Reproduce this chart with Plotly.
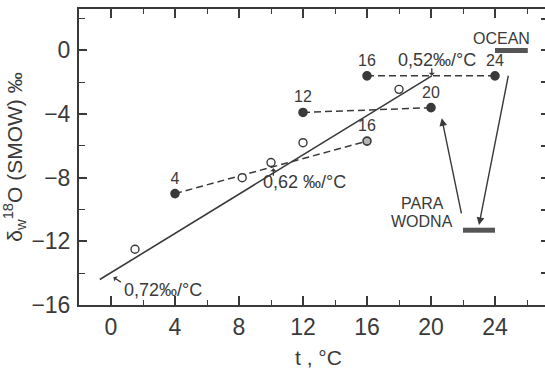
import plotly.graph_objects as go

# ---- data ----
fit_t = [-0.7, 20.05]
fit_d = [-14.4, -1.6]

open_t = [1.5, 8.2, 10.0, 12.0, 18.0]
open_d = [-12.5, -8.0, -7.05, -5.8, -2.45]

# dashed series (start point, end point)
s1_t = [4, 16]
s1_d = [-9.0, -5.7]
s1_lab = ["4", "16"]
s2_t = [12, 20]
s2_d = [-3.9, -3.6]
s2_lab = ["12", "20"]
s3_t = [16, 24]
s3_d = [-1.6, -1.6]
s3_lab = ["16", "24"]

ocean_t = [24.0, 26.05]
ocean_d = [0.0, 0.0]
vapour_t = [22.0, 24.0]
vapour_d = [-11.3, -11.3]

x_range = [-2, 27.125]
y_range = [-16, 2.6]

INK = "#3a3a3a"
FONT = "Liberation Sans, Arial, sans-serif"

fig = go.Figure()

fig.add_trace(go.Scatter(x=fit_t, y=fit_d, mode="lines",
                         line=dict(color=INK, width=1.6), showlegend=False))

dash = "7px,4px"
for tt, dd, lab, end_col in [(s1_t, s1_d, s1_lab, "#b5b5b5"), (s2_t, s2_d, s2_lab, INK), (s3_t, s3_d, s3_lab, INK)]:
    fig.add_trace(go.Scatter(x=tt, y=dd, mode="lines", line=dict(color=INK, width=1.5, dash=dash),
                             showlegend=False))
    fig.add_trace(go.Scatter(x=tt, y=dd, mode="markers+text", text=lab, textposition="top center",
                             textfont=dict(family=FONT, size=16, color=INK),
                             marker=dict(size=8, color=[INK, end_col],
                                         line=dict(color=INK, width=1.6)),
                             showlegend=False))

fig.add_trace(go.Scatter(x=open_t, y=open_d, mode="markers",
                         marker=dict(size=8, color="white", line=dict(color=INK, width=1.4)),
                         showlegend=False))

fig.add_trace(go.Scatter(x=ocean_t, y=ocean_d, mode="lines", line=dict(color="#555555", width=5),
                         showlegend=False, yaxis="y2"))
fig.add_trace(go.Scatter(x=vapour_t, y=vapour_d, mode="lines", line=dict(color="#555555", width=5),
                         showlegend=False))

ann = []
tf = dict(family=FONT, size=18, color=INK)
# slope labels
ann.append(dict(x=3.25, y=-15.05, text="0,72‰/°C", showarrow=False, font=tf, xref="x", yref="y"))
ann.append(dict(x=0.15, y=-14.25, ax=9, ay=6, text="", showarrow=True, arrowhead=1, arrowsize=0.8,
                arrowwidth=1.3, arrowcolor=INK, xref="x", yref="y"))
ann.append(dict(x=12.1, y=-8.26, text="0,62 ‰/°C", showarrow=False, font=tf, xref="x", yref="y"))
ann.append(dict(x=10.15, y=-7.4, ax=0, ay=9, text="", showarrow=True, arrowhead=1, arrowsize=0.8,
                arrowwidth=1.3, arrowcolor=INK, xref="x", yref="y"))
ann.append(dict(x=20.4, y=-0.6, text="0,52‰/°C", showarrow=False, font=tf, xref="x", yref="y"))
ann.append(dict(x=20.05, y=-1.6, ax=0, ay=-9, text="", showarrow=True, arrowhead=1, arrowsize=0.8,
                arrowwidth=1.3, arrowcolor=INK, xref="x", yref="y"))
# region labels
lf = dict(family=FONT, size=16, color=INK)
ann.append(dict(x=24.42, y=0.77, text="OCEAN", showarrow=False, font=lf, xref="x", yref="y"))
ann.append(dict(x=19.45, y=-9.6, text="PARA", showarrow=False, font=lf, xref="x", yref="y"))
ann.append(dict(x=19.45, y=-10.76, text="WODNA", showarrow=False, font=lf, xref="x", yref="y"))
# long arrows
ann.append(dict(x=20.67, y=-4.26, ax=21.92, ay=-10.34, axref="x", ayref="y", text="", showarrow=True,
                arrowhead=2, arrowsize=1.1, arrowwidth=1.4, arrowcolor=INK, xref="x", yref="y"))
ann.append(dict(x=23.0, y=-10.97, ax=24.85, ay=-1.5, axref="x", ayref="y", text="", showarrow=True,
                arrowhead=2, arrowsize=1.1, arrowwidth=1.4, arrowcolor=INK, xref="x", yref="y"))
# x-axis title
ann.append(dict(x=12.95, y=-0.177, xref="x", yref="paper", yanchor="middle", text="t , °C",
                showarrow=False, font=dict(family=FONT, size=21, color=INK)))

fig.update_layout(
    width=545, height=370,
    margin=dict(l=79, r=0, t=9, b=65),
    paper_bgcolor="white", plot_bgcolor="white",
    annotations=ann,
    xaxis=dict(range=x_range, tick0=0, dtick=4, ticks="inside", ticklen=9, tickwidth=1.5,
               tickcolor=INK, showline=True, linecolor=INK, linewidth=2, mirror="ticks",
               showgrid=False, zeroline=False,
               minor=dict(dtick=2, tick0=0, ticks="inside", ticklen=5, tickwidth=1.3, tickcolor=INK),
               tickfont=dict(family=FONT, size=23, color=INK), ticklabelstandoff=0),
    yaxis=dict(range=y_range, tick0=0, dtick=4, ticks="inside", ticklen=8, tickwidth=1.5,
               tickcolor=INK, showline=True, linecolor=INK, linewidth=2,
               showgrid=False, zeroline=False, automargin=False,
               minor=dict(dtick=2, tick0=0, ticks="inside", ticklen=6, tickwidth=1.3, tickcolor=INK),
               tickfont=dict(family=FONT, size=23, color=INK), ticklabelstandoff=2,
               title=dict(text="δ<sub>w</sub><sup>18</sup>O (SMOW) ‰",
                          font=dict(family=FONT, size=21, color=INK), standoff=3)),
    yaxis2=dict(range=y_range, overlaying="y", side="right", anchor="x", tick0=0, dtick=2,
                ticks="inside", ticklen=4, tickwidth=1.5, tickcolor=INK, showline=False,
                showticklabels=False, showgrid=False, zeroline=False),
)

fig.write_html("out.html", config={"displayModeBar": False},
               post_script="document.body.style.margin='0';")
